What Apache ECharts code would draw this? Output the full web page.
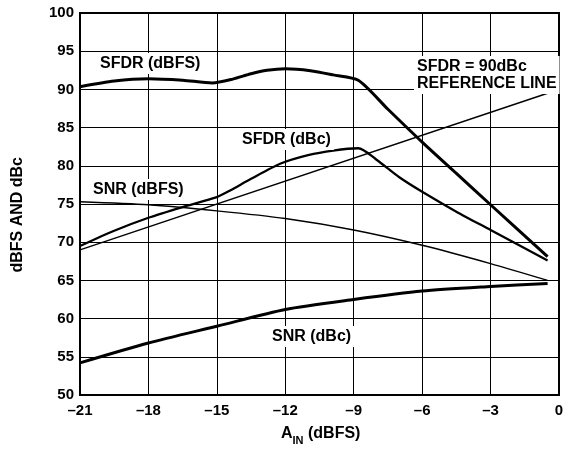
<!DOCTYPE html>
<html>
<head>
<meta charset="utf-8">
<script src="https://cdn.jsdelivr.net/npm/echarts@6/dist/echarts.min.js"></script>
<style>
html,body{margin:0;padding:0;background:#fff;}
#chart{width:576px;height:449px;}
</style>
</head>
<body>
<div id="chart"></div>
<script>
var xTicks = [-21, -18, -15, -12, -9, -6, -3, 0];
var yTicks = [50, 55, 60, 65, 70, 75, 80, 85, 90, 95, 100];

var sfdrDbfs = [[-21,90.35],[-19.5,91.1],[-18,91.4],[-16.5,91.2],[-15.2,90.85],[-14.3,91.35],[-13.5,92.05],[-12.8,92.5],[-12,92.7],[-10.9,92.45],[-9.9,91.9],[-8.8,91.2],[-7.5,87.4],[-6,83.1],[-4.5,79.0],[-3,74.9],[-0.5,68.1]];
var sfdrDbc = [[-21,69.5],[-19.5,71.5],[-18,73.2],[-16.5,74.6],[-15,75.9],[-14.4,76.8],[-13.5,78.3],[-12.2,80.3],[-11,81.4],[-9.9,82.0],[-8.8,82.3],[-8,80.8],[-7,78.5],[-6,76.6],[-4.5,74.0],[-3,71.6],[-0.5,67.6]];
var snrDbfs = [[-21,75.3],[-18,74.9],[-15,74.1],[-12,73.1],[-9,71.6],[-6,69.6],[-3,67.2],[-0.5,65.0]];
var snrDbc = [[-21,54.2],[-18,56.8],[-15,59.0],[-12,61.2],[-9,62.5],[-6,63.6],[-3,64.2],[-0.5,64.6]];
var refLine = [[-21,69],[-0.5,89.5]];

var FONT = '"Liberation Sans", Arial, sans-serif';
var chart = echarts.init(document.getElementById('chart'), null, {renderer:'canvas'});

function lbl(text, x, y) {
  return {
    type:'text', left:x, top:y, z:100,
    style:{text:text, fill:'#000', font:'bold 16px ' + FONT,
      backgroundColor:'#fff', padding:[2,3,2,3], lineHeight:17}
  };
}

chart.setOption({
  animation:false,
  backgroundColor:'#fff',
  grid:{left:80, right:17, top:13, bottom:54, show:true, borderColor:'#000', borderWidth:2, backgroundColor:'transparent', z:3},
  xAxis:{
    type:'value', min:-21, max:0, interval:3,
    axisLine:{show:false}, axisTick:{show:false},
    splitLine:{show:true, lineStyle:{color:'#000', width:1}},
    axisLabel:{color:'#000', fontFamily:FONT, fontWeight:'bold', fontSize:15, margin:8,
      formatter:function(v){ return String(v).replace('-', '\u2013'); }}
  },
  yAxis:{
    type:'value', min:50, max:100, interval:5,
    axisLine:{show:false}, axisTick:{show:false},
    splitLine:{show:true, lineStyle:{color:'#000', width:1}},
    axisLabel:{color:'#000', fontFamily:FONT, fontWeight:'bold', fontSize:15, margin:6}
  },
  graphic:[
    {type:'text', left:10, top:157, z:100, rotation:Math.PI/2,
      style:{text:'dBFS AND dBc', fill:'#000', font:'bold 16px ' + FONT}},
    {type:'text', left:281, top:426, z:100,
      style:{text:'{a|A}{s|IN}{a| (dBFS)}', fill:'#000',
        rich:{a:{fontFamily:FONT, fontWeight:'bold', fontSize:16, fill:'#000', verticalAlign:'bottom'},
              s:{fontFamily:FONT, fontWeight:'bold', fontSize:11, fill:'#000', verticalAlign:'bottom', padding:[0,0,-4,0]}}}},
    lbl('SFDR (dBFS)', 97, 53),
    lbl('SFDR (dBc)', 239, 129),
    lbl('SNR (dBFS)', 90, 179),
    lbl('SNR (dBc)', 269, 326),
    lbl('SFDR = 90dBc\nREFERENCE LINE', 414, 56)
  ],
  series:[
    {type:'line', data:sfdrDbfs, smooth:0.25, symbol:'none', lineStyle:{color:'#000', width:3}, z:5},
    {type:'line', data:sfdrDbc, smooth:0.25, symbol:'none', lineStyle:{color:'#000', width:2.3}, z:5},
    {type:'line', data:snrDbfs, smooth:0.25, symbol:'none', lineStyle:{color:'#000', width:1.4}, z:5},
    {type:'line', data:snrDbc, smooth:0.25, symbol:'none', lineStyle:{color:'#000', width:3}, z:5},
    {type:'line', data:refLine, symbol:'none', lineStyle:{color:'#000', width:1.4}, z:5}
  ]
});
</script>
</body>
</html>
